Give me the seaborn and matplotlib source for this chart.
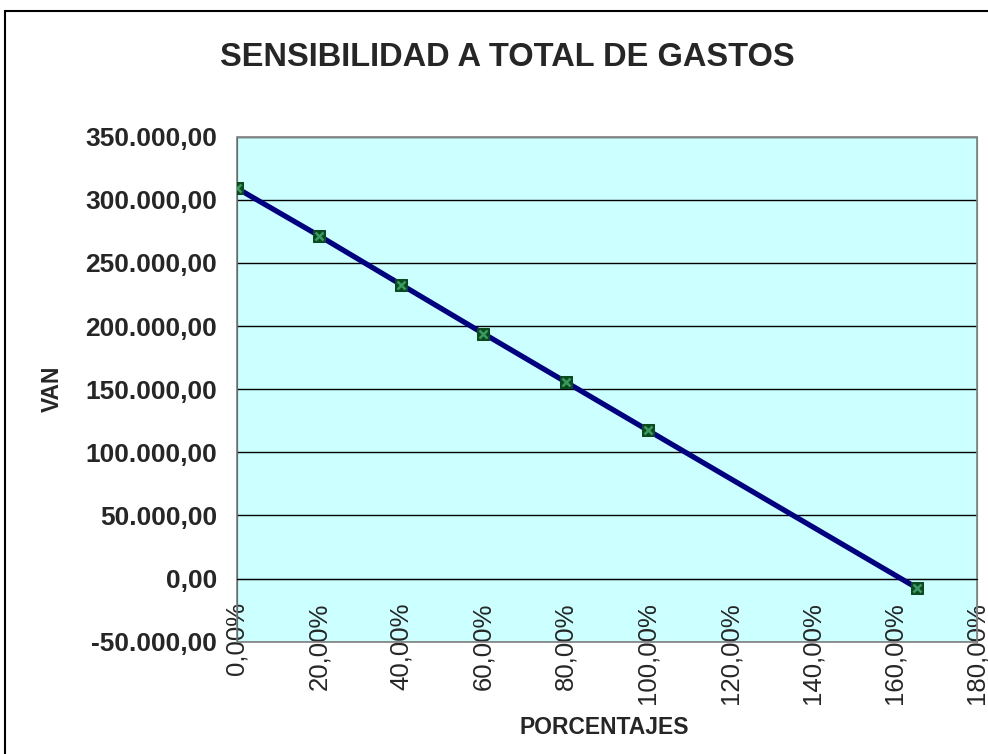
import matplotlib
matplotlib.use("Agg")
import matplotlib.pyplot as plt
import matplotlib.ticker as mticker
from matplotlib.patches import Rectangle
import seaborn as sns
import pandas as pd

# data
porcentajes = [0, 20, 40, 60, 80, 100, 165.5]
van = [309300, 271600, 232800, 194100, 155800, 117500, -7500]
x_ticks = [0, 20, 40, 60, 80, 100, 120, 140, 160, 180]
y_ticks = [-50000, 0, 50000, 100000, 150000, 200000, 250000, 300000, 350000]

sns.set_style("white")
plt.rcParams['font.family'] = ['Liberation Sans', 'DejaVu Sans']

df = pd.DataFrame({'pct': porcentajes, 'van': van})


def fmt_es(v, pos=None):
    s = f"{v:,.2f}"
    return s.replace(',', 'X').replace('.', ',').replace('X', '.')


def fmt_pct(v, pos=None):
    return f"{v:.2f}".replace('.', ',') + "%"


fig = plt.figure(figsize=(9.88, 7.54), dpi=100)
ax = fig.add_axes([0.2396, 0.1489, 0.749, 0.6698])
ax.set_facecolor('#CCFFFF')

sns.lineplot(data=df, x='pct', y='van', ax=ax, color='#000080', lw=3.8,
             marker='s', markersize=9, markerfacecolor='#0B4A1E',
             markeredgecolor='#0B4A1E', zorder=4)
ax.plot(df['pct'], df['van'], ls='none', marker='x', markersize=5.5,
        markeredgewidth=1.8, color='#3A9A60', zorder=5)

ax.set_xlim(0, 180)
ax.set_ylim(-50000, 350000)
ax.set_xticks(x_ticks)
ax.set_yticks(y_ticks)
ax.xaxis.set_major_formatter(mticker.FuncFormatter(fmt_pct))
ax.yaxis.set_major_formatter(mticker.FuncFormatter(fmt_es))

ax.yaxis.grid(True, color='black', lw=1)
ax.xaxis.grid(False)
ax.set_axisbelow(True)

for side in ['top', 'right']:
    ax.spines[side].set_color('#808080')
ax.spines['left'].set_color('black')
ax.spines['bottom'].set_position(('data', 0))
ax.spines['bottom'].set_color('black')
ax.spines['bottom'].set_zorder(3)
ax.add_patch(Rectangle((0, 0), 1, 1, transform=ax.transAxes, fill=False,
                       edgecolor='#808080', lw=1.2, zorder=3, clip_on=False))

ax.tick_params(axis='y', direction='out', length=5, width=1, color='black',
               pad=9, labelsize=19)
ax.tick_params(axis='x', direction='out', length=6, width=1, color='#606060',
               pad=11, labelsize=18.5, labelrotation=90)
for lab in ax.get_yticklabels():
    lab.set_fontweight('bold')
for lab in ax.get_xticklabels():
    lab.set_va('top')
    lab.set_ha('center')

ax.set_xlabel('PORCENTAJES', fontsize=16.5, fontweight='bold')
ax.set_ylabel('VAN', fontsize=16.5, fontweight='bold')
ax.xaxis.set_label_coords(0.496, -0.148)
ax.yaxis.set_label_coords(-0.249, 0.5)
ax.xaxis.label.set_va('top')
ax.yaxis.label.set_va('center')

fig.text(0.513, 0.924, 'SENSIBILIDAD A TOTAL DE GASTOS', ha='center',
         va='center', fontsize=23.5, fontweight='bold')

fig.patches.append(Rectangle((0.0051, -0.1), 1.2, 0.9854 + 0.1,
                             transform=fig.transFigure, fill=False,
                             edgecolor='black', lw=1.5))

fig.savefig('out.png', dpi=100)
